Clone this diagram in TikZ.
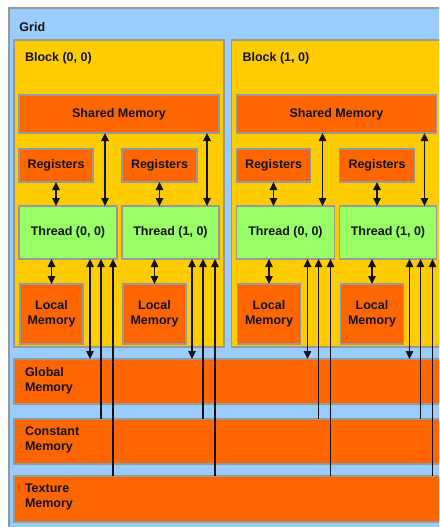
\documentclass[tikz,border=0pt]{standalone}
\usepackage{fontspec}
\setmainfont{Liberation Sans}
\usetikzlibrary{arrows.meta,calc}
\definecolor{gridblue}{HTML}{99CCFF}
\definecolor{blockyellow}{HTML}{FFCC00}
\definecolor{memorange}{HTML}{FF6600}
\definecolor{threadgreen}{HTML}{99FF66}
\definecolor{bordergray}{HTML}{999999}
\definecolor{txt}{HTML}{111111}
\begin{document}
\begin{tikzpicture}[x=1pt,y=-1pt,
  box/.style={draw=bordergray, line width=1.5pt, inner sep=0pt, outer sep=0pt, anchor=north west,
    text=txt, font=\bfseries\fontsize{12.5}{14.5}\selectfont, align=center},
  gridbox/.style={box, fill=gridblue},
  blockbox/.style={box, fill=blockyellow},
  orbox/.style={box, fill=memorange},
  thbox/.style={box, fill=threadgreen},
  lbl/.style={inner sep=0pt, outer sep=0pt, anchor=west, text=txt, font=\bfseries\fontsize{12.5}{15}\selectfont, align=left},
  dblarr/.style={{Triangle[width=7.5pt,length=8pt]}-{Triangle[width=7.5pt,length=8pt]}, line width=1.4pt, draw=txt},
  uparr/.style={-{Triangle[width=7.5pt,length=8pt]}, line width=1.4pt, draw=txt}
]
\useasboundingbox (0,0) rectangle (439,527);
\clip (0,0) rectangle (439,527);
\fill[white] (0,0) rectangle (439,527);
\node[gridbox, minimum width=460pt, minimum height=540pt] (grid) at (9,8) {};
\node[lbl] (gridt) at (19.5,27) {Grid};

% memories
\node[orbox, minimum width=450pt, minimum height=45pt] (gm) at (14,359) {};
\node[orbox, minimum width=450pt, minimum height=45pt] (cm) at (14,419) {};
\node[orbox, minimum width=450pt, minimum height=46pt] (tm) at (14,476) {};
\node[lbl] (gmt) at ($(gm.west)+(11,-1)$) {Global\\Memory};
\node[lbl] (cmt) at ($(cm.west)+(11,-2)$) {Constant\\Memory};
\node[lbl] (tmt) at ($(tm.west)+(11,-2)$) {Texture\\Memory};

\foreach \b/\i in {14/0, 231.5/1} {
  \node[blockbox, minimum width=210pt, minimum height=307pt] (blk\i) at (\b,40) {};
  \node[lbl] (blkt\i) at (\b+11,58) {Block (\i, 0)};
  \node[orbox, minimum width=200pt, minimum height=38pt] (sh\i) at (\b+5,95) {Shared Memory};
  \node[orbox, minimum width=74pt, minimum height=33pt] (rA\i) at (\b+5,149) {Registers};
  \node[orbox, minimum width=75pt, minimum height=33pt] (rB\i) at (\b+108,149) {Registers};
  \node[thbox, minimum width=98pt, minimum height=53pt] (thA\i) at (\b+5,206) {Thread (0, 0)};
  \node[thbox, minimum width=97pt, minimum height=53pt] (thB\i) at (\b+108,206) {Thread (1, 0)};
  \node[orbox, minimum width=63pt, minimum height=60pt] (lmA\i) at (\b+6,284) {Local\\Memory};
  \node[orbox, minimum width=63pt, minimum height=60pt] (lmB\i) at (\b+109,284) {Local\\Memory};
}

\foreach \i in {0,1} {
  \foreach \t in {A,B} {
    \draw[dblarr] (r\t\i.south) -- (r\t\i.south |- th\t\i.north);
    \coordinate (sa\t\i) at ($(th\t\i.north east)+(-12,0)$);
    \draw[dblarr] (sa\t\i |- sh\i.south) -- (sa\t\i);
    \draw[dblarr] (lm\t\i.north) -- (lm\t\i.north |- th\t\i.south);
    \coordinate (ga\t\i) at ($(th\t\i.south east)+(-27,0)$);
    \coordinate (ca\t\i) at ($(th\t\i.south east)+(-16,0)$);
    \coordinate (ta\t\i) at ($(th\t\i.south east)+(-4,0)$);
    \draw[dblarr] (ga\t\i) -- (ga\t\i |- gm.north);
    \draw[uparr] (ca\t\i |- cm.north) -- (ca\t\i);
    \draw[uparr] (ta\t\i |- tm.north) -- (ta\t\i);
  }
}
\end{tikzpicture}
\end{document}
